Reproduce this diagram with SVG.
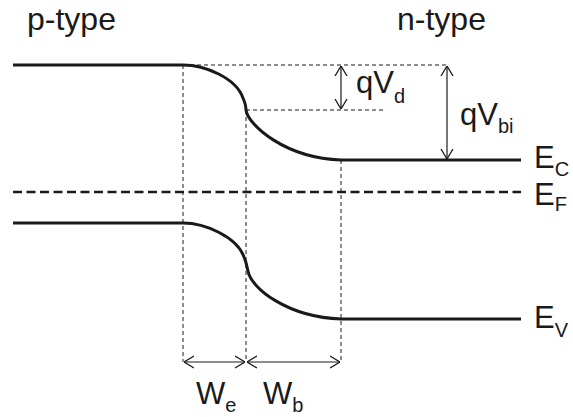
<svg xmlns="http://www.w3.org/2000/svg" width="573" height="417" viewBox="0 0 573 417">
<style>
.band{fill:none;stroke:#1a1a1a;stroke-width:3;stroke-linejoin:round}
.fermi{fill:none;stroke:#1a1a1a;stroke-width:2.5;stroke-dasharray:9 4.5}
.guide{fill:none;stroke:#1a1a1a;stroke-width:1;stroke-dasharray:4 3}
.dim{fill:none;stroke:#1a1a1a;stroke-width:1.2}
text{font-family:"Liberation Sans",Arial,sans-serif;fill:#1a1a1a}
.lbl{font-size:32px}
.big{font-size:31px}
.en{font-size:31px}
.sub{font-size:20px}
</style>
<defs>
<marker id="ah" viewBox="0 0 10 14" refX="10" refY="7" markerUnits="userSpaceOnUse" markerWidth="10" markerHeight="14" orient="auto-start-reverse">
<path d="M0,1 L10,7 L0,13" fill="none" stroke="#1a1a1a" stroke-width="1.3"/>
</marker>
</defs>
<g id="guides">
<line class="guide" x1="183" y1="65" x2="447" y2="65"/>
<line class="guide" x1="246" y1="110" x2="384" y2="110"/>
<line class="guide" x1="183" y1="65" x2="183" y2="362"/>
<line class="guide" x1="246" y1="110" x2="246" y2="362"/>
<line class="guide" x1="341" y1="160" x2="341" y2="362"/>
</g>
<g id="fermi-level">
<line class="fermi" x1="13" y1="192" x2="521" y2="192"/>
</g>
<g id="conduction-band">
<path class="band" d="M13,65 H183 C205,65 236,78 243,98 C246,105 246,108 246,110 C248,125 285,158 341,160 H521"/>
</g>
<g id="valence-band">
<path class="band" d="M13,223 H183 C205,223 237,237 244,257 C247,264 247,268 248,271 C251,288 287,317 341,319 H521"/>
</g>
<g id="connectors">
<line class="dim" x1="341" y1="66" x2="341" y2="109" marker-start="url(#ah)" marker-end="url(#ah)"/>
<line class="dim" x1="447" y1="66" x2="447" y2="159" marker-start="url(#ah)" marker-end="url(#ah)"/>
<line class="dim" x1="184" y1="362" x2="245" y2="362" marker-start="url(#ah)" marker-end="url(#ah)"/>
<line class="dim" x1="247" y1="362" x2="340" y2="362" marker-start="url(#ah)" marker-end="url(#ah)"/>
</g>
<g id="labels">
<text class="lbl" x="27" y="30">p-type</text>
<text class="lbl" x="397" y="30">n-type</text>
<text class="big" x="356" y="93">qV<tspan class="sub" dy="10">d</tspan></text>
<text class="big" x="460" y="125">qV<tspan class="sub" dy="8">bi</tspan></text>
<text class="en" x="534" y="168">E<tspan class="sub" dy="8">C</tspan></text>
<text class="en" x="534" y="205">E<tspan class="sub" dy="6">F</tspan></text>
<text class="en" x="534" y="328">E<tspan class="sub" dy="9">V</tspan></text>
<text class="big" x="196" y="404">W<tspan class="sub" dy="8">e</tspan></text>
<text class="big" x="263" y="404">W<tspan class="sub" dy="8">b</tspan></text>
</g>
</svg>
